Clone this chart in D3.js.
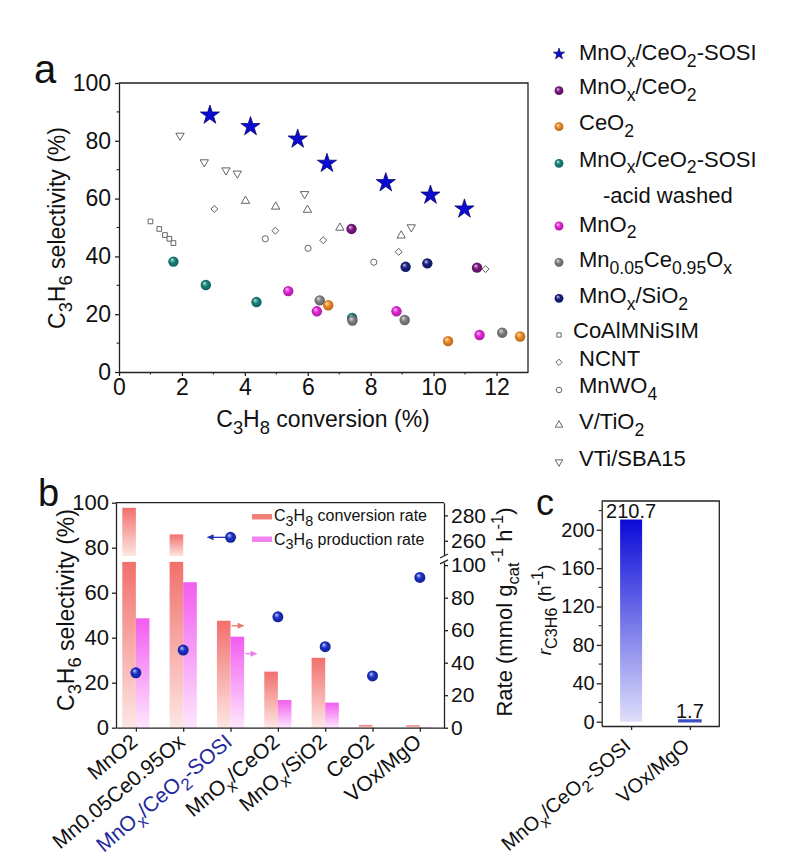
<!DOCTYPE html>
<html>
<head>
<meta charset="utf-8">
<script src="https://cdn.jsdelivr.net/npm/d3@7"></script>
<style>
  body { margin: 0; background: #fff; }
  text { font-family: Arial, "Liberation Sans", sans-serif; fill: #111; }
</style>
</head>
<body>
<script>
// ---------- panel a data: [C3H8 conversion %, C3H6 selectivity %] ----------
var sosi       = [[2.89,88.9],[4.18,84.9],[5.68,80.6],[6.61,72.2],[8.48,65.5],[9.9,61.2],[10.98,56.4]];
var mnoxCeo2   = [[7.39,49.5],[11.38,36.1]];
var ceo2       = [[6.65,23.1],[10.46,10.7],[12.75,12.3]];
var acidWashed = [[1.73,38.2],[2.76,30.1],[4.37,24.2],[7.41,18.7]];
var mno2       = [[5.38,28.0],[6.29,21.0],[8.82,21.0],[11.46,12.8]];
var mnCeOx     = [[6.38,24.8],[7.42,17.8],[9.08,18.0],[12.18,13.6]];
var mnoxSio2   = [[9.11,36.4],[9.8,37.6]];
var coalmnisim = [[1.0,52.1],[1.28,49.5],[1.46,47.4],[1.6,46.1],[1.73,44.6]];
var ncnt       = [[3.03,56.4],[4.97,48.9],[6.49,45.6],[8.89,41.6],[11.65,35.6]];
var mnwo4      = [[4.65,46.1],[6.01,42.8],[8.1,38.0]];
var vTiO2      = [[4.02,59.2],[4.98,57.2],[5.99,56.1],[7.02,49.9],[8.97,47.2]];
var vtiSba15   = [[1.94,81.8],[2.71,72.6],[3.4,69.8],[3.76,68.7],[5.9,61.6],[9.29,50.1]];

var legendNames = ["MnO_{x}/CeO_{2}-SOSI","MnO_{x}/CeO_{2}","CeO_{2}","MnO_{x}/CeO_{2}-SOSI","MnO_{2}",
  "Mn_{0.05}Ce_{0.95}O_{x}","MnO_{x}/SiO_{2}","CoAlMNiSIM","NCNT","MnWO_{4}","V/TiO_{2}","VTi/SBA15"];
var aXTicks = [0,2,4,6,8,10,12];
var aYTicks = [0,20,40,60,80,100];

// ---------- panel b data ----------
var bCats = ["MnO2","Mn0.05Ce0.95Ox","MnO_{x}/CeO_{2}-SOSI","MnO_{x}/CeO2","MnO_{x}/SiO2","CeO2","VOx/MgO"];
var convRate = [286, 265, 65.8, 34.5, 43, 1.7, 1.5];     // mmol g-1 h-1
var prodRate = [67.3, 89.5, 56, 17, 15.4, 0, 0.4];
var selectivity = [24.4, 34.5, 84.6, 49.3, 36, 23, 66.8]; // %
var bLeftTicks = [0,20,40,60,80,100];
var bLowTicks = [0,20,40,60,80,100];
var bHighTicks = [260,280];

// ---------- panel c data ----------
var cCats = ["MnO_{x}/CeO_{2}-SOSI","VOx/MgO"];
var cRate = [210.7, 1.7];
var cTicks = [0,40,80,120,160,200];

// ---------- helpers ----------
function parse(s) {
  var out = [], re = /([_^])\{([^}]*)\}/g, last = 0, m;
  while ((m = re.exec(s))) {
    if (m.index > last) out.push([s.slice(last, m.index), ""]);
    out.push([m[2], m[1] === "_" ? "sub" : "sup"]);
    last = re.lastIndex;
  }
  if (last < s.length) out.push([s.slice(last), ""]);
  return out;
}
function rich(sel, parts, fs, scale) {
  if (typeof parts === "string") parts = parse(parts);
  scale = scale || 0.8;
  var cur = 0;
  parts.forEach(function(p) {
    var target = p[1] === "sub" ? fs * 0.3 : p[1] === "sup" ? -fs * 0.42 : 0;
    var t = sel.append("tspan").attr("dy", target - cur)
      .attr("font-size", (p[1] === "sub" || p[1] === "sup") ? fs * scale : fs).text(p[0]);
    if (p[2]) t.attr("font-style", "italic");
    cur = target;
  });
  return sel;
}

var svg = d3.select("body").append("svg").attr("width", 800).attr("height", 865).style("display", "block");
var defs = svg.append("defs");

function sphereGrad(id, color) {
  var g = defs.append("radialGradient").attr("id", id)
    .attr("cx", "50%").attr("cy", "50%").attr("r", "55%").attr("fx", "35%").attr("fy", "30%");
  g.append("stop").attr("offset", "0%").attr("stop-color", d3.interpolateRgb(color, "#ffffff")(0.75));
  g.append("stop").attr("offset", "45%").attr("stop-color", color);
  g.append("stop").attr("offset", "100%").attr("stop-color", d3.color(color).darker(1));
}
function linGrad(id, top, bottom) {
  var g = defs.append("linearGradient").attr("id", id).attr("x1", 0).attr("y1", 0).attr("x2", 0).attr("y2", 1);
  g.append("stop").attr("offset", "0%").attr("stop-color", top);
  g.append("stop").attr("offset", "100%").attr("stop-color", bottom);
}

function styleAxis(g) {
  g.selectAll("path,line").attr("stroke", "#222").attr("stroke-width", 1.3);
  g.selectAll("text").attr("fill", "#111").attr("font-family", "Arial, 'Liberation Sans', sans-serif");
}

// ================= panel a =================
var xA = d3.scaleLinear().domain([0, 13]).range([119, 528]);
var yA = d3.scaleLinear().domain([0, 100]).range([372, 83]);

var seriesA = [
  {pts: sosi, shape: "star", color: "#0a0ad2"},
  {pts: mnoxCeo2, shape: "sphere", color: "#7c1680"},
  {pts: ceo2, shape: "sphere", color: "#f08a22"},
  {pts: acidWashed, shape: "sphere", color: "#17827a"},
  {pts: mno2, shape: "sphere", color: "#e426d8"},
  {pts: mnCeOx, shape: "sphere", color: "#808080"},
  {pts: mnoxSio2, shape: "sphere", color: "#17207f"},
  {pts: coalmnisim, shape: "square"},
  {pts: ncnt, shape: "diamond"},
  {pts: mnwo4, shape: "circle"},
  {pts: vTiO2, shape: "triUp"},
  {pts: vtiSba15, shape: "triDown"}
];
seriesA.forEach(function(s, i) { if (s.shape === "sphere") sphereGrad("sph" + i, s.color); });
sphereGrad("sphB", "#1a30c8");

function marker(g, s, i, x, y, k) {
  var p;
  if (s.shape === "sphere") {
    return g.append("circle").attr("cx", x).attr("cy", y).attr("r", 5.2 * k).attr("fill", "url(#sph" + i + ")");
  }
  if (s.shape === "star") {
    return g.append("path").attr("d", d3.symbol(d3.symbolStar, 115 * k * k)())
      .attr("transform", "translate(" + x + "," + y + ")")
      .attr("fill", s.color).attr("stroke", "#00005a").attr("stroke-width", 0.7);
  }
  if (s.shape === "circle") {
    p = g.append("circle").attr("cx", x).attr("cy", y).attr("r", 3.1 * k);
  } else {
    var type = s.shape === "square" || s.shape === "diamond" ? d3.symbolSquare : d3.symbolTriangle;
    var size = s.shape === "square" ? 22 : s.shape === "diamond" ? 24 : 30;
    var rot = s.shape === "diamond" ? 45 : s.shape === "triDown" ? 180 : 0;
    p = g.append("path").attr("d", d3.symbol(type, size * k * k)())
      .attr("transform", "translate(" + x + "," + y + ") rotate(" + rot + ")");
  }
  return p.attr("fill", "#fff").attr("stroke", "#555").attr("stroke-width", 0.9);
}

var gA = svg.append("g");
var axA = gA.append("g").attr("transform", "translate(0,372)")
  .call(d3.axisBottom(xA).tickValues(aXTicks).tickSize(4).tickPadding(3).tickSizeOuter(0))
  .attr("font-size", 23);
styleAxis(axA);
var ayA = gA.append("g").attr("transform", "translate(119,0)")
  .call(d3.axisLeft(yA).tickValues(aYTicks).tickSize(4).tickPadding(4).tickSizeOuter(0))
  .attr("font-size", 23);
styleAxis(ayA);
// minor ticks
gA.selectAll(".mx").data(d3.range(1, 13, 2)).enter().append("line")
  .attr("x1", function(d) { return xA(d); }).attr("x2", function(d) { return xA(d); })
  .attr("y1", 372).attr("y2", 374.5).attr("stroke", "#222").attr("stroke-width", 1.1);
gA.selectAll(".my").data(d3.range(10, 100, 20)).enter().append("line")
  .attr("y1", function(d) { return yA(d); }).attr("y2", function(d) { return yA(d); })
  .attr("x1", 119).attr("x2", 116.5).attr("stroke", "#222").attr("stroke-width", 1.1);
gA.append("path").attr("d", "M119,83H528V372").attr("fill", "none").attr("stroke", "#222").attr("stroke-width", 1.3);

// points (open markers first, then spheres, then stars)
var drawOrder = [7, 8, 9, 10, 11, 1, 2, 3, 4, 5, 6, 0];
drawOrder.forEach(function(i) {
  var s = seriesA[i];
  s.pts.forEach(function(p) { marker(gA, s, i, xA(p[0]), yA(p[1]), 1); });
});

// legend a
var legY = [54, 90.7, 126.7, 163.3, 226, 262.3, 298.3, 335, 362.3, 390, 425, 462];
var legBase = [60, 94, 130, 166.7, 231.7, 267.3, 303.3, 338.3, 365.7, 393.3, 429.3, 466];
seriesA.forEach(function(s, i) {
  marker(gA, s, i, 559, legY[i], s.shape === "star" ? 0.58 : s.shape === "sphere" ? 0.85 : 0.9);
  var tx = i === 7 ? 573 : 579;
  rich(gA.append("text").attr("x", tx).attr("y", legBase[i]).attr("font-size", 22), legendNames[i], 22);
});
gA.append("text").attr("x", 603).attr("y", 203.3).attr("font-size", 22).text("-acid washed");

rich(gA.append("text").attr("text-anchor", "middle").attr("x", 323).attr("y", 427).attr("font-size", 23),
  "C_{3}H_{8} conversion (%)", 23);
rich(gA.append("text").attr("text-anchor", "middle").attr("transform", "translate(65,228) rotate(-90)").attr("font-size", 23),
  "C_{3}H_{6} selectivity (%)", 23);
gA.append("text").attr("x", 34).attr("y", 83).attr("font-size", 40).text("a");

// ================= panel b =================
var xB = d3.scaleLinear().domain([0.58, 7.51]).range([116, 444]);
var yBL = d3.scaleLinear().domain([0, 100]).range([727.7, 502.7]);
var lowMax = 102, highMin = 248;
var yLow = d3.scaleLinear().domain([0, lowMax]).range([727.7, 561.9]);
var yHigh = d3.scaleLinear().domain([highMin, 290]).range([556, 502.7]);
var bw = 13.6;

linGrad("gConv", "#f26f6b", "#fde6e3");
linGrad("gProd", "#f25cf0", "#fde6fd");

var gB = svg.append("g");
bCats.forEach(function(c, i) {
  var cx = xB(i + 1);
  var v = convRate[i];
  if (v > lowMax) {
    gB.append("rect").attr("x", cx - bw).attr("width", bw).attr("y", yLow(lowMax))
      .attr("height", yLow(0) - yLow(lowMax)).attr("fill", "url(#gConv)");
    gB.append("rect").attr("x", cx - bw).attr("width", bw).attr("y", yHigh(v))
      .attr("height", yHigh(highMin) - yHigh(v)).attr("fill", "url(#gConv)");
  } else {
    gB.append("rect").attr("x", cx - bw).attr("width", bw).attr("y", yLow(v))
      .attr("height", yLow(0) - yLow(v)).attr("fill", "url(#gConv)");
  }
  var pv = prodRate[i];
  gB.append("rect").attr("x", cx).attr("width", bw).attr("y", yLow(pv))
    .attr("height", yLow(0) - yLow(pv)).attr("fill", "url(#gProd)");
});

var axB = gB.append("g").attr("transform", "translate(0,727.7)")
  .call(d3.axisBottom(xB).tickValues(d3.range(1, 8)).tickSize(4).tickFormat("").tickSizeOuter(0));
styleAxis(axB);
var ayB = gB.append("g").attr("transform", "translate(116,0)")
  .call(d3.axisLeft(yBL).tickValues(bLeftTicks).tickSize(4).tickPadding(3).tickSizeOuter(0))
  .attr("font-size", 22);
styleAxis(ayB);
var ryLow = gB.append("g").attr("transform", "translate(444,0)")
  .call(d3.axisRight(yLow).tickValues(bLowTicks).tickSize(4).tickPadding(3).tickSizeOuter(0))
  .attr("font-size", 21);
styleAxis(ryLow);
var ryHigh = gB.append("g").attr("transform", "translate(444,0)")
  .call(d3.axisRight(yHigh).tickValues(bHighTicks).tickSize(4).tickPadding(3).tickSizeOuter(0))
  .attr("font-size", 21);
styleAxis(ryHigh);
gB.append("line").attr("x1", 116).attr("x2", 444).attr("y1", 502.7).attr("y2", 502.7).attr("stroke", "#222").attr("stroke-width", 1.3);
// axis break
gB.append("rect").attr("x", 441).attr("y", yHigh(highMin)).attr("width", 6).attr("height", yLow(lowMax) - yHigh(highMin)).attr("fill", "#fff");
[yHigh(highMin), yLow(lowMax)].forEach(function(y) {
  gB.append("line").attr("x1", 440).attr("x2", 448).attr("y1", y + 2).attr("y2", y - 2).attr("stroke", "#222").attr("stroke-width", 1.2);
});

selectivity.forEach(function(v, i) {
  gB.append("circle").attr("cx", xB(i + 1)).attr("cy", yBL(v)).attr("r", 5.5).attr("fill", "url(#sphB)");
});

function arrow(x1, x2, y, color) {
  var dir = x2 > x1 ? 1 : -1;
  gB.append("line").attr("x1", x1).attr("x2", x2 - dir * 4).attr("y1", y).attr("y2", y)
    .attr("stroke", color).attr("stroke-width", 1.3);
  gB.append("path").attr("d", "M" + x2 + "," + y + "l" + (-dir * 7) + ",-3l0,6z").attr("fill", color);
}
arrow(xB(3) - 5, xB(3) - 24, yBL(selectivity[2]), "#2233b0");
arrow(xB(3) + 1, xB(3) + 14, yLow(convRate[2]) + 5, "#e8786f");
arrow(xB(3) + 15, xB(3) + 27, yLow(prodRate[2]) + 17, "#ec7cea");

gB.append("rect").attr("x", 252).attr("y", 514).attr("width", 20).attr("height", 5.5).attr("fill", "#f2807a");
gB.append("rect").attr("x", 252).attr("y", 536.5).attr("width", 20).attr("height", 5.5).attr("fill", "#f283f0");
rich(gB.append("text").attr("x", 274).attr("y", 521).attr("font-size", 16), "C_{3}H_{8} conversion rate", 16, 0.9);
rich(gB.append("text").attr("x", 274).attr("y", 544.5).attr("font-size", 16), "C_{3}H_{6} production rate", 16, 0.9);

bCats.forEach(function(c, i) {
  var t = gB.append("text").attr("text-anchor", "end").attr("font-size", 21)
    .attr("transform", "translate(" + (xB(i + 1) + 3) + ",744) rotate(-40)");
  if (i === 2) t.style("fill", "#1f2a9e");
  rich(t, c, 21);
});

rich(gB.append("text").attr("text-anchor", "middle").attr("transform", "translate(74,610) rotate(-90)").attr("font-size", 23),
  "C_{3}H_{6} selectivity (%)", 23);
rich(gB.append("text").attr("text-anchor", "middle").attr("transform", "translate(512,612) rotate(-90)").attr("font-size", 22),
  "Rate (mmol g_{cat}^{-1} h^{-1})", 22, 0.75);
gB.append("text").attr("x", 38).attr("y", 506).attr("font-size", 38).text("b");

// ================= panel c =================
var xC = d3.scalePoint().domain(cCats).range([601.7, 719.3]).padding(0.5);
var yC = d3.scaleLinear().domain([-4.5, 230]).range([726, 501]);
var cw = 22;
linGrad("gC1", "#0a0ad8", "#dedefa");
var gC = svg.append("g");
cCats.forEach(function(c, i) {
  gC.append("rect").attr("x", xC(c) - cw / 2).attr("width", cw)
    .attr("y", yC(cRate[i])).attr("height", yC(0) - yC(cRate[i]))
    .attr("fill", i === 0 ? "url(#gC1)" : "#3c4ec4")
    .attr("stroke", i === 0 ? "none" : "#3c4ec4").attr("stroke-width", 1.6);
  gC.append("text").attr("x", xC(c)).attr("y", yC(cRate[i]) - 2).attr("text-anchor", "middle")
    .attr("font-size", 20).text(cRate[i]);
});
var ayC = gC.append("g").attr("transform", "translate(601.7,0)")
  .call(d3.axisLeft(yC).tickValues(cTicks).tickSize(5).tickPadding(2).tickSizeOuter(0))
  .attr("font-size", 20);
styleAxis(ayC);
gC.selectAll(".mc").data(d3.range(20, 230, 40)).enter().append("line")
  .attr("y1", function(d) { return yC(d); }).attr("y2", function(d) { return yC(d); })
  .attr("x1", 601.7).attr("x2", 598.7).attr("stroke", "#222").attr("stroke-width", 1.1);
var axC = gC.append("g").attr("transform", "translate(0,726)")
  .call(d3.axisBottom(xC).tickSize(4).tickFormat("").tickSizeOuter(0));
styleAxis(axC);
gC.append("path").attr("d", "M601.7,501H719.3V726").attr("fill", "none").attr("stroke", "#222").attr("stroke-width", 1.3);
cCats.forEach(function(c) {
  rich(gC.append("text").attr("text-anchor", "end").attr("font-size", 20)
    .attr("transform", "translate(" + (xC(c) + 1) + ",748) rotate(-40)"), c, 20);
});
rich(gC.append("text").attr("text-anchor", "middle").attr("transform", "translate(551,610) rotate(-90)").attr("font-size", 19),
  [["r", "", true], ["C3H6", "sub"], [" (h", ""], ["-1", "sup"], [")", ""]], 19, 0.85);
gC.append("text").attr("x", 536).attr("y", 515).attr("font-size", 36).text("c");
</script>
</body>
</html>
